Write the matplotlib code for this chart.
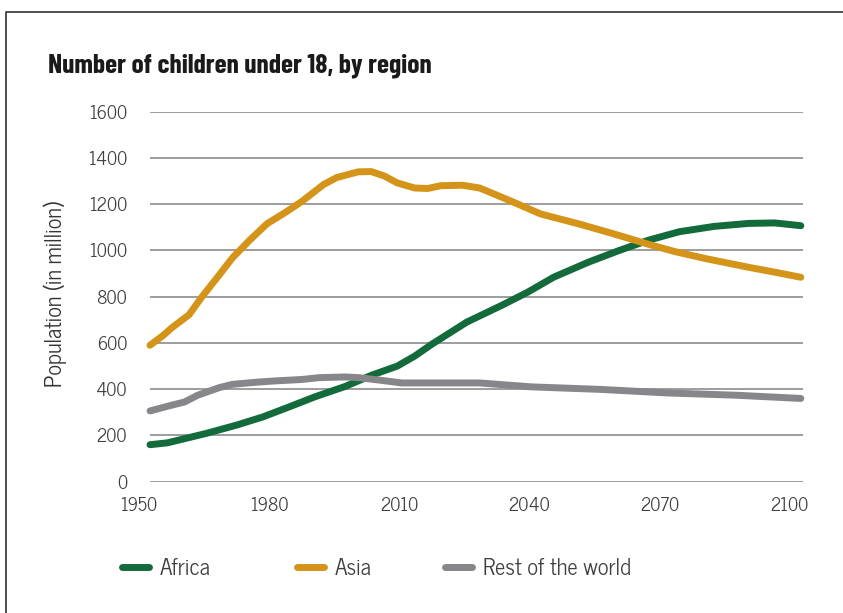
import matplotlib
matplotlib.use("Agg")
import matplotlib.pyplot as plt
from matplotlib.lines import Line2D
from matplotlib.transforms import ScaledTranslation

africa_years = [1950, 1954, 1963, 1970, 1976, 1982, 1988, 1995, 2001, 2007, 2011, 2015, 2023,
                2031, 2037, 2043, 2051, 2058, 2065, 2072, 2080, 2088, 2094, 2100]
africa = [160, 168, 209, 245, 280, 323, 367, 412, 460, 500, 543, 595, 690,
          762, 819, 884, 949, 999, 1045, 1081, 1104, 1117, 1119, 1107]

asia_years = [1950, 1953, 1955, 1959, 1962, 1966, 1969, 1973, 1977, 1981, 1985, 1990, 1993,
              1998, 2001, 2004, 2007, 2011, 2014, 2017, 2022, 2026, 2033, 2040, 2049, 2057,
              2065, 2071, 2078, 2088, 2094, 2100]
asia = [590, 632, 665, 722, 800, 895, 968, 1045, 1116, 1162, 1212, 1285, 1315,
        1340, 1341, 1322, 1292, 1270, 1268, 1280, 1282, 1270, 1215, 1158, 1114, 1071,
        1026, 995, 965, 927, 906, 884]

rest_years = [1950, 1954, 1958, 1961, 1966, 1969, 1975, 1979, 1985, 1989, 1995, 1998, 2003,
              2008, 2015, 2026, 2038, 2054, 2069, 2085, 2100]
rest = [306, 326, 345, 374, 407, 421, 431, 436, 442, 450, 453, 450, 439,
        427, 427, 427, 410, 399, 384, 374, 360]

series_names = ["Africa", "Asia", "Rest of the world"]
colors = ["#136b3b", "#d4941a", "#87878b"]
x_ticks = [1950, 1980, 2010, 2040, 2070, 2100]
y_ticks = [0, 200, 400, 600, 800, 1000, 1200, 1400, 1600]

BODY = ["News Cycle", "Roboto Condensed", "DejaVu Sans"]
TITLE = ["Barlow Condensed", "Roboto Condensed", "DejaVu Sans"]
plt.rcParams["font.family"] = BODY

W, H = 843, 613
fig = plt.figure(figsize=(W / 100, H / 100), dpi=100)
ax = fig.add_axes([150 / W, 1 - 481.7 / H, 653 / W, 370 / H])

for xs, vals, c, name in zip([africa_years, asia_years, rest_years], [africa, asia, rest],
                             colors, series_names):
    ax.plot(xs, vals, color=c, lw=5, solid_capstyle="round", solid_joinstyle="round",
            label=name, clip_on=False, zorder=3)

ax.set_xlim(1950, 2100.5)
ax.set_ylim(0, 1600)
ax.set_yticks(y_ticks)
ax.set_xticks(x_ticks)
ax.grid(axis="y", color="#8c8c8c", lw=1.2, zorder=1)
ax.grid(axis="x", visible=False)
for s in ax.spines.values():
    s.set_visible(False)
ax.tick_params(axis="both", length=0, labelsize=13, labelcolor="#404040")
ax.tick_params(axis="y", pad=16.5)
ax.tick_params(axis="x", pad=11)
offset = ScaledTranslation(-11 / 100, 0, fig.dpi_scale_trans)
for lab in ax.get_xticklabels():
    lab.set_transform(lab.get_transform() + offset)

ax.set_ylabel("Population (in million)", fontsize=16, color="#333333")
ax.yaxis.set_label_coords((67 - 150) / 653, 0.508)

fig.text(48 / W, 1 - 72.7 / H, "Number of children under 18, by region", fontsize=19.8,
         fontweight="bold", color="#1a1a1a", va="baseline", ha="left", family=TITLE)

handles, labels = ax.get_legend_handles_labels()
leg_x = [121.5, 296.5, 444.5]
for h, l, lx in zip(handles, labels, leg_x):
    fig.legend([h], [l], loc="center left", bbox_to_anchor=(lx / W, 1 - 569 / H),
               frameon=False, fontsize=16.3, handlelength=1.2, handletextpad=0.49,
               borderpad=0, borderaxespad=0, labelcolor="#404040")

fig.add_artist(Line2D([5.5 / W, 5.5 / W, 1.0], [0.0, 1 - 11.5 / H, 1 - 11.5 / H],
                      color="#404040", lw=1.3, transform=fig.transFigure))

fig.savefig("out.png", dpi=100)
